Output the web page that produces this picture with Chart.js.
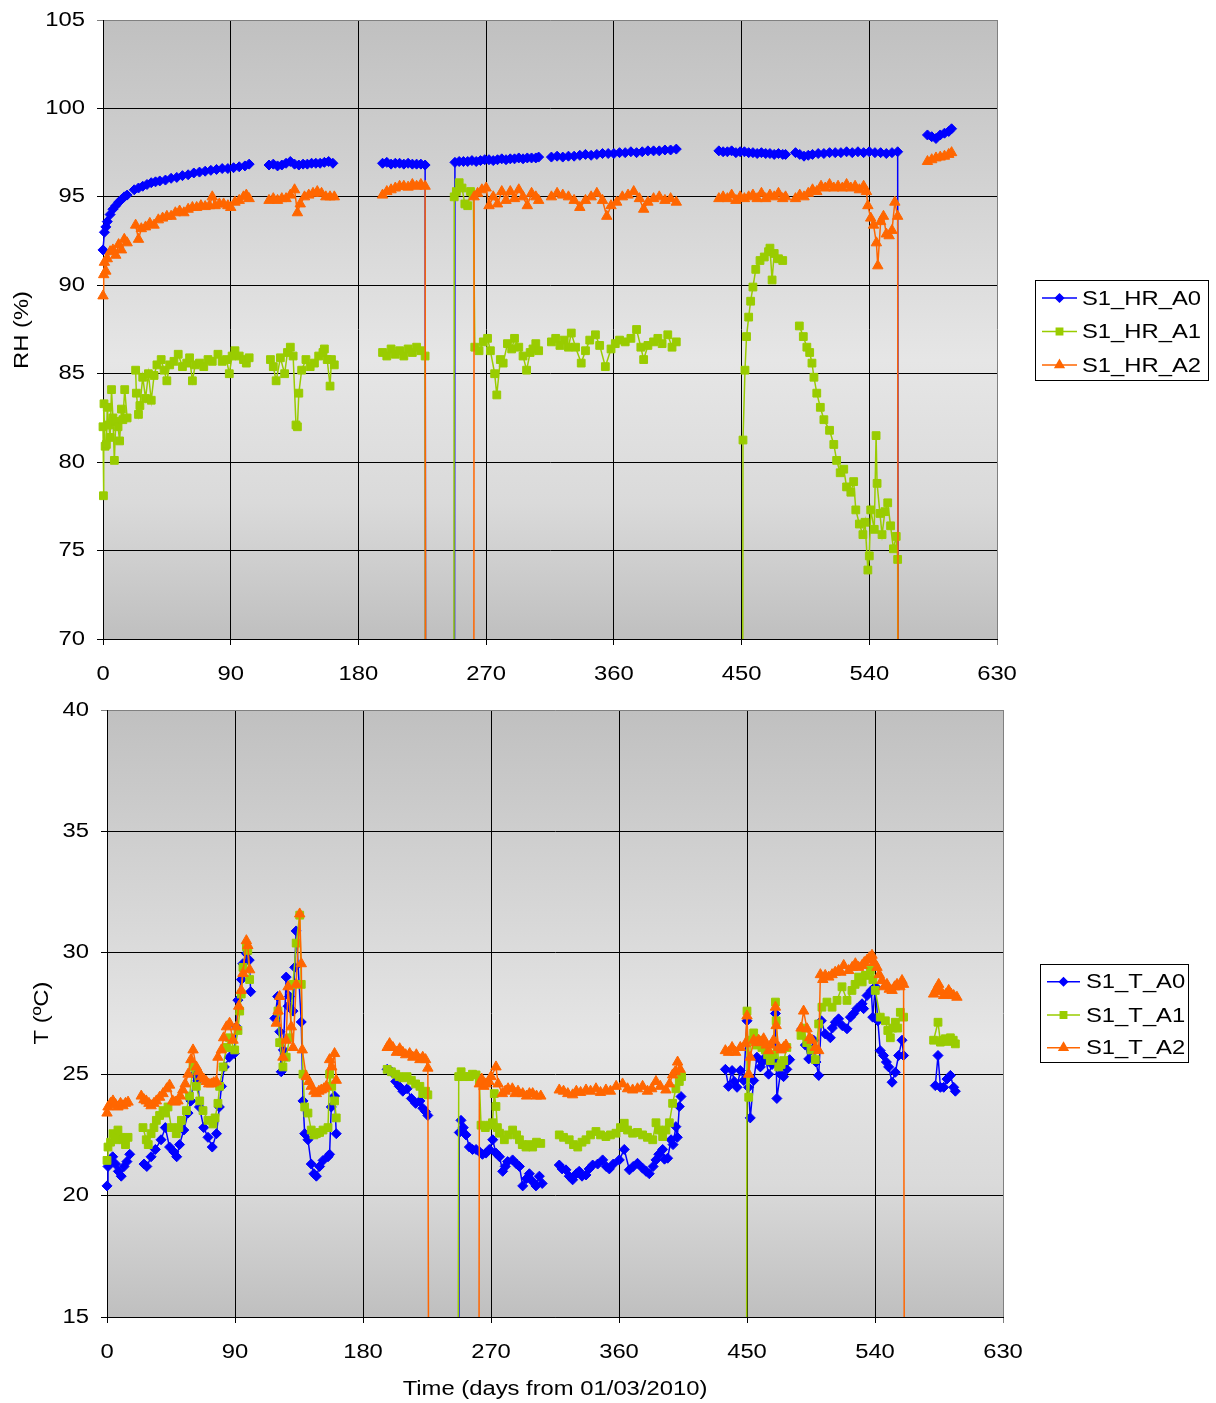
<!DOCTYPE html>
<html>
<head>
<meta charset="utf-8">
<title>RH and T, sensor S1</title>
<script src="https://cdn.jsdelivr.net/npm/chart.js@4.4.0/dist/chart.umd.min.js"></script>
<style>
  body { margin: 0; background: #fff; }
  #wrap { position: relative; width: 1216px; height: 1403px; }
  canvas { position: absolute; left: 0; }
</style>
</head>
<body>
<div id="wrap">
  <canvas id="rhChart" width="1216" height="700" style="top:0"></canvas>
  <canvas id="tChart" width="1216" height="703" style="top:700px"></canvas>
</div>
<script>
// x axis ticks (days from 01/03/2010)
const dayTicks = [0, 90, 180, 270, 360, 450, 540, 630];
const rhTicks = [70, 75, 80, 85, 90, 95, 100, 105];
const tTicks = [15, 20, 25, 30, 35, 40];

// [day, value] pairs; null = gap, 0 = reading below the axis
const hrA0 = [
  [0,92.0],[1,93.0],[2,93.3],[3,93.6],[5,94.0],[7,94.3],[9,94.5],[11,94.7],[13,94.85],[15,95.0],[17,95.1],[19,null],
  [22,95.4],[25,95.5],[28,95.6],[31,95.7],[34,95.8],[37,95.85],[40,95.9],[44,95.95],[48,96.05],[52,96.1],[56,96.2],[60,96.25],[64,96.35],[68,96.4],[72,96.45],[76,96.5],[80,96.55],[84,96.6],[88,96.6],[92,96.65],[96,96.7],[100,96.75],[103,96.85],[110,null],
  [117,96.8],[120,96.85],[123,96.75],[126,96.8],[129,96.9],[132,97.0],[135,96.85],[138,96.8],[141,96.85],[144,96.85],[147,96.9],[150,96.9],[153,96.9],[156,96.95],[159,97.0],[162,96.9],[180,null],
  [197,96.9],[200,96.95],[203,96.85],[206,96.9],[209,96.9],[212,96.85],[215,96.9],[218,96.85],[221,96.85],[224,96.85],[227,96.8],[228,0],[238,null],
  [247,0],[248,96.95],[251,97.0],[254,97.0],[257,97.0],[260,97.05],[263,97.0],[266,97.05],[269,97.1],[272,97.1],[275,97.05],[278,97.1],[281,97.15],[284,97.1],[287,97.15],[290,97.15],[293,97.2],[296,97.15],[299,97.2],[302,97.2],[305,97.2],[307,97.25],[312,null],
  [316,97.25],[320,97.3],[324,97.25],[328,97.3],[332,97.3],[336,97.35],[340,97.4],[344,97.35],[348,97.4],[352,97.45],[356,97.45],[360,97.45],[364,97.5],[368,97.5],[372,97.55],[376,97.5],[380,97.55],[384,97.6],[388,97.6],[392,97.6],[396,97.65],[400,97.65],[404,97.7],[420,null],
  [434,97.6],[437,97.55],[440,97.55],[443,97.6],[446,97.5],[449,97.55],[452,97.55],[455,97.5],[458,97.5],[461,97.45],[464,97.5],[467,97.45],[470,97.45],[473,97.4],[476,97.45],[479,97.4],[481,97.4],[485,null],
  [488,97.5],[491,97.4],[494,97.3],[497,97.35],[500,97.4],[504,97.45],[508,97.45],[512,97.5],[516,97.5],[520,97.5],[524,97.55],[528,97.5],[532,97.55],[536,97.5],[540,97.55],[544,97.5],[548,97.5],[552,97.45],[556,97.5],[560,97.55],[561,0],[570,null],
  [581,98.5],[584,98.4],[587,98.3],[590,98.5],[593,98.6],[596,98.7],[598,98.85]
];

const hrA1 = [
  [0,82.0],[0.3,78.1],[0.7,83.3],[1.5,80.9],[2.4,81.0],[3,83.1],[4,82.1],[5,81.4],[6,84.1],[7,82.5],[8,80.1],[9,82.3],[10.6,82.0],[11.7,81.2],[13,83.0],[14,82.4],[15.3,84.1],[17,82.5],[20,null],
  [23,85.2],[23.5,83.9],[25,82.7],[26,83.2],[28,84.8],[30,83.6],[32,85.0],[34,83.5],[36,84.9],[38,85.5],[41,85.8],[43,85.2],[45,84.6],[47,85.5],[50,85.7],[53,86.1],[56,85.4],[59,85.6],[61,85.9],[63,84.6],[65,85.5],[68,85.6],[71,85.4],[74,85.8],[77,85.7],[81,86.1],[84,85.7],[87,85.8],[89,85.0],[91,86.0],[93,86.3],[96,86.0],[99,85.8],[101,85.6],[103,85.9],[110,null],
  [118,85.8],[120,85.4],[122,84.6],[125,85.9],[128,85.0],[130,86.2],[132,86.5],[134,86.0],[136,82.1],[137,82.0],[138,83.9],[140,85.2],[143,85.8],[146,85.4],[149,85.6],[152,86.0],[155,86.2],[156,86.4],[158,85.8],[160,84.3],[161,85.8],[163,85.5],[180,null],
  [197,86.2],[200,86.0],[203,86.4],[206,86.1],[209,86.3],[212,86.0],[215,86.4],[218,86.2],[221,86.5],[224,86.3],[227,86.0],[228,0],[238,null],
  [247,0],[247.5,95.0],[249,95.3],[251,95.8],[253,95.5],[255,94.6],[257,94.5],[259,95.3],[261,95.1],[262,86.5],[265,86.3],[268,86.8],[271,87.0],[273,86.3],[276,85.0],[277.5,83.8],[280,85.8],[282,85.6],[285,86.7],[288,86.4],[290,87.0],[293,86.5],[296,86.0],[298.5,85.2],[301,86.2],[303,86.4],[305,86.7],[307,86.3],[312,null],
  [316,86.8],[319,87.0],[322,86.6],[325,86.9],[328,86.5],[330,87.3],[333,86.5],[337,85.6],[340,86.3],[343,86.9],[347,87.2],[350,86.6],[354,85.4],[358,86.4],[361,86.7],[364,86.9],[368,86.8],[372,87.0],[376,87.5],[379,86.5],[381,85.8],[384,86.6],[388,86.8],[391,87.0],[394,86.7],[398,87.2],[401,86.5],[404,86.8],[420,null],
  [450,0],[451,81.25],[452.4,85.2],[453.5,87.1],[455,88.2],[456.4,89.1],[458,89.9],[460,90.9],[463,91.4],[466,91.6],[469,91.9],[470,92.1],[471.5,90.3],[473,91.8],[476,91.5],[479,91.4],[485,null],
  [490.7,87.7],[493.5,87.1],[496,86.5],[498,86.2],[499.6,85.6],[501,84.8],[503,83.9],[505.5,83.1],[508,82.4],[512,81.8],[515,81.0],[517,80.1],[519.5,79.4],[522,79.6],[524,78.6],[527,78.3],[529,78.9],[530.5,77.3],[533,76.5],[535.5,75.9],[537,76.6],[539,73.9],[540,74.7],[541,77.3],[543.5,76.2],[544.8,81.5],[545.5,78.8],[547.5,77.1],[549,75.9],[551,77.2],[553,77.7],[555,76.4],[557,75.1],[559,75.8],[560,74.5],[561,0]
];

const hrA2 = [
  [0,89.4],[0.5,90.6],[1,91.3],[2,90.8],[3,91.5],[5,91.9],[7,92.0],[9,91.7],[11,92.3],[13,92.0],[15,92.6],[17,92.4],[20,null],
  [23,93.4],[25,92.6],[27,93.2],[30,93.3],[33,93.5],[36,93.4],[39,93.7],[42,93.8],[45,93.9],[48,93.9],[51,94.1],[54,94.2],[57,94.1],[60,94.3],[63,94.4],[66,94.4],[69,94.5],[72,94.45],[75,94.5],[77,95.0],[79,94.5],[82,94.6],[85,94.6],[88,94.5],[90,94.4],[93,94.7],[96,94.8],[99,95.0],[101,95.1],[103,94.9],[110,null],
  [117,94.8],[120,94.9],[123,94.8],[126,94.9],[129,94.9],[132,95.1],[135,95.4],[137,94.1],[139,94.6],[142,95.0],[145,95.1],[148,95.2],[151,95.3],[154,95.2],[157,95.0],[160,95.0],[163,95.0],[180,null],
  [197,95.1],[200,95.3],[203,95.4],[206,95.5],[209,95.6],[212,95.6],[215,95.55],[218,95.7],[221,95.6],[224,95.7],[227,95.6],[228,0],[238,null],
  [261,0],[261.5,95.0],[264,95.2],[267,95.4],[270,95.5],[272,94.5],[275,95.0],[278,94.6],[281,95.3],[284,94.8],[287,95.3],[290,94.9],[293,95.4],[296,95.0],[299,94.5],[302,95.2],[305,95.0],[307,94.8],[312,null],
  [316,95.0],[320,95.2],[324,95.1],[328,95.0],[332,94.8],[336,94.4],[340,94.8],[344,95.0],[348,95.2],[352,94.8],[355,93.9],[358,94.5],[362,94.7],[366,95.0],[370,95.1],[374,95.3],[378,94.9],[381,94.3],[384,94.7],[388,94.9],[392,95.0],[396,94.8],[400,94.9],[404,94.7],[420,null],
  [434,94.9],[437,95.0],[440,94.9],[443,95.1],[446,94.8],[449,95.0],[452,94.9],[455,95.0],[458,95.1],[461,94.9],[464,95.2],[467,94.9],[470,95.1],[473,95.0],[476,95.2],[479,94.9],[481,95.0],[485,null],
  [488,94.9],[491,95.1],[494,95.0],[497,95.2],[500,95.4],[503,95.3],[506,95.6],[509,95.5],[512,95.7],[515,95.5],[518,95.6],[521,95.5],[524,95.7],[527,95.5],[530,95.6],[533,95.4],[536,95.6],[538,95.3],[539,94.5],[541,93.8],[543,93.4],[545,92.4],[546,91.1],[548,93.6],[550,93.9],[552,92.9],[554,92.8],[556,93.1],[558,94.7],[560,93.9],[561,0],[570,null],
  [581,97.0],[584,97.1],[587,97.2],[590,97.25],[593,97.3],[596,97.4],[598,97.5]
];

const tA0 = [
  [0,20.4],[0.7,21.2],[2,21.4],[4,21.6],[6,21.3],[8,21.0],[10,20.8],[12,21.2],[14,21.4],[16,21.7],[20,null],
  [26,21.3],[28,21.2],[31,21.6],[34,21.9],[38,22.3],[41,22.8],[44,22.0],[47,21.8],[49,21.6],[51,22.1],[54,22.7],[57,23.4],[59,23.9],[61.5,25.0],[64,24.75],[65,23.65],[68,22.8],[71,22.4],[74,22.0],[77,22.55],[79,23.65],[80.5,24.5],[82.5,25.3],[86,25.7],[89.5,25.85],[91,26.95],[92,28.05],[94.5,28.9],[95.5,29.55],[98,29.97],[100,29.7],[101,28.4],[110,null],
  [118,27.3],[120,28.2],[121.5,26.75],[122.5,25.1],[124,26.0],[126,29.0],[127.3,27.8],[128.4,28.2],[130.8,27.6],[132,29.4],[133,30.9],[136.6,27.15],[137.8,23.9],[139,22.55],[141.3,22.3],[143.6,21.3],[145.5,20.9],[147.2,20.8],[149.5,21.2],[151.9,21.45],[155.4,21.6],[156.5,21.7],[157.7,23.65],[160,24.1],[161.2,22.55],[180,null],
  [197,25.2],[200,25.1],[203,24.7],[205.5,24.5],[208,24.3],[211,24.4],[214,24.0],[217,23.8],[220,23.9],[222,23.6],[224,23.46],[225.6,23.3],[236,null],
  [247,0],[247.7,22.6],[248.9,23.1],[250.5,22.8],[252.4,22.5],[254.8,22.0],[257,21.9],[259.5,21.9],[262,21.8],[264,21.7],[266.5,21.75],[268.8,21.9],[271.2,22.3],[273.5,21.75],[276,21.6],[278.2,21.0],[280,21.2],[281.7,21.4],[285.2,21.47],[288,21.3],[290,21.2],[292.3,20.4],[295,20.7],[297,20.9],[299,20.6],[301.6,20.4],[304,20.8],[306,20.5],[312,null],
  [318,21.26],[320,21.1],[322.7,21.06],[325,20.8],[327.4,20.65],[330,20.9],[332,21.0],[334,20.8],[336.8,20.85],[339,21.1],[341.5,21.26],[345,21.3],[348.5,21.47],[351,21.2],[353.2,21.1],[356,21.3],[360.2,21.47],[363.7,21.9],[367.3,21.06],[370,21.2],[373,21.33],[376.6,21.13],[379,21.0],[381.3,20.9],[384,21.2],[386,21.47],[388,21.7],[390.7,21.9],[392,21.5],[394.2,21.54],[396.6,22.3],[398,22.1],[400,22.84],[401,22.4],[402.4,23.67],[403.6,24.08],[420,null],
  [434.8,25.2],[437,24.5],[439.5,25.15],[441,24.7],[443,24.46],[445.3,25.15],[447.7,24.74],[450,27.2],[451,24.46],[452.3,23.2],[454.7,24.74],[457,25.7],[459.4,25.3],[461,25.5],[462.9,25.7],[465.2,25.0],[467.6,25.4],[469,25.6],[470,27.5],[471,24.0],[473.4,25.0],[475.7,24.9],[478,25.2],[480,25.6],[484,null],
  [488.7,26.87],[491,26.2],[493.4,25.63],[495,26.0],[496.9,26.4],[498.5,25.5],[500.4,24.95],[502.3,27.2],[505,26.66],[508.6,26.5],[510,26.9],[512.1,27.14],[514.4,27.28],[517,27.0],[520.3,26.87],[522.7,27.35],[525,27.5],[527.3,27.7],[530.9,27.9],[532,27.7],[534.4,28.24],[537.4,28.45],[538.4,27.35],[540.2,28.6],[542,27.2],[543.7,25.97],[546,25.77],[548,25.5],[549.6,25.3],[552,24.67],[554.3,25.08],[556.6,25.77],[559,26.4],[560.1,25.77],[570,null],
  [582.4,24.53],[584.3,25.77],[586,24.46],[588.3,24.46],[590.6,24.8],[593,24.95],[595.3,24.46],[596.5,24.3]
];

const tA1 = [
  [0,21.45],[0.7,22.0],[2.5,22.2],[4.2,22.55],[6,22.3],[7.7,22.7],[9.5,22.4],[11.2,22.3],[13,22.1],[14.8,22.4],[20,null],
  [25.3,22.8],[27.6,22.3],[29,22.1],[31,22.55],[33,22.8],[34.7,23.1],[37,23.3],[39.4,23.5],[41,23.4],[42.9,23.65],[45.2,22.8],[48.7,22.55],[50.5,22.8],[52.3,23.1],[55.8,23.5],[58,24.1],[60.5,25.3],[62.8,24.5],[65.2,23.9],[67.5,23.5],[71,23.1],[74.5,22.95],[76,23.2],[78,23.8],[79.2,24.5],[81.6,25.3],[84,26.1],[86.2,26.5],[89.8,26.0],[92.1,26.8],[93.3,27.6],[94.4,28.3],[95.6,29.4],[98,30.25],[99,30.1],[100.3,28.9],[110,null],
  [120.2,27.6],[121.4,26.3],[123.7,25.3],[126,25.7],[128.4,26.5],[130.8,28.7],[133,30.4],[135.5,31.55],[136.6,28.7],[137.8,25.0],[139,23.65],[141.3,23.4],[143.6,22.7],[145.5,22.5],[147.2,22.55],[149.5,22.6],[151.9,22.7],[155.4,22.8],[156.5,25.0],[158,24.5],[160,23.9],[161.2,23.2],[180,null],
  [197,25.2],[200,25.1],[203,25.0],[205.5,24.9],[208,24.85],[211,24.9],[214,24.75],[217,24.6],[220,24.5],[222,24.2],[224,24.3],[225.6,24.15],[236,null],
  [246.6,0],[247.3,24.9],[249,25.1],[251,24.9],[254.8,24.9],[257,25.0],[259.5,24.97],[261.8,24.7],[263,22.9],[266,22.8],[268.8,22.9],[271,23.0],[272.3,24.2],[273.5,23.67],[274.5,22.8],[276,22.57],[279.4,22.3],[282,22.5],[285.2,22.7],[288,22.5],[290,22.3],[292,22.1],[294.6,22.0],[297,22.1],[299.3,22.0],[302,22.2],[305,22.15],[312,null],
  [318,22.5],[321,22.4],[325,22.3],[328,22.1],[331,22.0],[334,22.2],[336.8,22.3],[340,22.5],[343.8,22.64],[347,22.5],[350.8,22.43],[354,22.5],[357.9,22.57],[361,22.8],[363.7,22.98],[366,22.7],[369.6,22.57],[373,22.6],[376.6,22.5],[380,22.4],[383.7,22.3],[386,23.0],[388,22.7],[390.7,22.43],[393,22.7],[395.4,23.0],[397.7,23.8],[400,24.4],[402.4,24.7],[404,24.9],[420,null],
  [449.5,0],[450,27.6],[451.2,24.05],[452.3,26.4],[454.7,26.7],[456.5,26.2],[458.2,26.4],[460.5,26.1],[462.9,26.0],[464.5,25.8],[466.4,25.56],[468.5,25.8],[470,27.97],[470.5,27.2],[472.3,25.3],[474,25.4],[475.8,25.56],[478,26.1],[484,null],
  [488,26.6],[490,26.9],[492,26.3],[495,26.0],[498,25.6],[500.4,27.07],[502.7,27.76],[506.2,27.97],[509.8,27.76],[513.3,28.04],[516.8,28.6],[520.3,28.04],[523.8,28.45],[526,28.7],[528.5,29.0],[531,28.8],[533.2,29.07],[536.7,29.27],[538.5,28.9],[540.2,28.45],[543.7,27.35],[547.3,27.2],[549,26.8],[550.8,26.5],[552.5,26.9],[554.3,27.14],[556,26.9],[557.8,27.55],[560.1,27.35],[570,null],
  [581.2,26.4],[584.3,27.14],[586,26.32],[587.5,26.4],[589.4,26.46],[591,26.35],[593,26.5],[595,26.4],[596.5,26.25]
];

const tA2 = [
  [0,23.4],[0.7,23.65],[2.5,23.8],[4.2,23.9],[6,23.75],[7.7,23.65],[9.5,23.8],[11.2,23.7],[13,23.8],[14.8,23.85],[20,null],
  [24.1,24.1],[26,23.95],[27.6,23.9],[29.5,23.8],[31,23.7],[33,23.8],[34.7,23.9],[37,24.05],[39.4,24.2],[42,24.4],[44,24.55],[46.2,23.9],[48,23.85],[49.9,23.9],[51.5,24.1],[53.3,24.35],[55,24.6],[57,25.0],[59,25.6],[60.5,26.0],[62.8,25.3],[64.5,25.1],[66.3,24.9],[68,24.8],[69.8,24.7],[71.5,24.6],[73.4,24.6],[75,24.65],[76.9,24.7],[78,25.7],[80.4,26.0],[82,26.5],[84,26.95],[86.2,27.1],[88.6,26.4],[91,26.95],[92.6,27.8],[94.4,28.45],[95.6,29.15],[98,30.5],[99,30.3],[100.3,29.3],[110,null],
  [119,27.1],[120.3,27.6],[121.4,28.2],[123.7,25.7],[126,26.4],[127.3,28.6],[129.6,26.95],[130.8,26.1],[133,28.7],[135.5,31.6],[136.6,29.55],[137.3,26.0],[140.1,24.9],[142,24.7],[143.6,24.5],[145.5,24.3],[147.2,24.2],[149,24.3],[150.7,24.35],[152.5,24.4],[154.2,24.5],[156.5,25.6],[158,25.3],[160,25.85],[161.2,24.75],[180,null],
  [197,26.1],[198.7,26.26],[201,26.1],[203.5,25.9],[205.8,26.05],[208,25.9],[210,25.8],[212.8,25.85],[215,25.7],[217.5,25.8],[220,25.6],[222,25.7],[224,25.6],[225.6,25.25],[226.6,0],[236,null],
  [261.3,0],[261.8,24.6],[263.5,24.8],[265,24.5],[266.5,24.6],[268.5,24.7],[270,24.9],[273.5,25.3],[275,24.6],[278,24.2],[280,24.3],[282,24.4],[285,24.4],[287,24.2],[289,24.3],[292.3,24.2],[295,24.1],[297,24.2],[299.3,24.2],[302,24.1],[305,24.1],[312,null],
  [318,24.35],[321,24.3],[324,24.2],[327.4,24.15],[330,24.3],[333,24.25],[336.8,24.35],[340,24.3],[343.8,24.4],[347,24.25],[350.8,24.35],[354,24.3],[358,24.5],[362.5,24.6],[366,24.4],[369.6,24.35],[373,24.4],[376.6,24.5],[380,24.3],[383,24.4],[386,24.7],[389,24.5],[393,24.35],[395.5,24.6],[397.7,24.97],[399.5,25.1],[401.2,25.5],[403,25.2],[420,null],
  [434.8,25.97],[437,25.9],[439.5,26.1],[442,25.9],[445.3,26.1],[448.8,26.25],[450,27.4],[451.2,25.0],[452.3,25.7],[454.7,26.4],[456.5,26.3],[458.2,26.4],[460,26.3],[461.7,26.46],[463.5,26.2],[465.2,25.97],[466.8,26.2],[468.7,26.4],[470,27.76],[470.5,27.0],[472.3,26.1],[474,26.0],[475.8,26.1],[477.4,26.2],[484,null],
  [488,26.9],[489.8,27.6],[492.2,26.87],[494,26.5],[495.7,26.4],[498,26.1],[500.4,25.97],[501.6,29.1],[503.3,28.9],[505,29.07],[507.5,29.0],[509.8,29.1],[512,29.2],[514.4,29.27],[516,29.2],[518,29.48],[521.5,29.27],[524,29.4],[526.2,29.55],[528.5,29.4],[530.9,29.48],[532.5,29.6],[534.4,29.7],[536,29.8],[537.9,29.9],[539.5,29.6],[541.4,29.4],[543,29.1],[544.9,28.86],[546.5,28.6],[548.4,28.7],[550,28.5],[552,28.45],[553.8,28.6],[555.5,28.7],[557.5,28.6],[559,28.86],[560.1,28.7],[561,0],[570,null],
  [581.2,28.3],[583,28.5],[584.8,28.7],[586.5,28.4],[588.3,28.24],[590,28.3],[591.8,28.45],[593.5,28.3],[595.3,28.24],[597.6,28.17]
];

const BLUE = '#0000ff';
const GREEN = '#99cc00';
const ORANGE = '#ff6600';
const FONT = "'Liberation Sans', Arial, sans-serif";
// the original's text is drawn a bit wide, so every label gets a horizontal stretch
const TEXT_STRETCH = 1.19;

function toPoints(pairs) {
  return pairs.map(p => ({ x: p[0], y: p[1] }));
}

function series(label, pairs, color, style, radius, order) {
  return {
    label: label,
    data: toPoints(pairs),
    borderColor: color,
    backgroundColor: color,
    borderWidth: 1.5,
    pointStyle: style,
    pointRadius: radius,
    pointHoverRadius: radius,
    pointBorderWidth: 1,
    pointBackgroundColor: color,
    pointBorderColor: color,
    tension: 0,
    spanGaps: false,
    order: order,
    clip: { left: 10, top: 10, right: 10, bottom: 0 }
  };
}

function wideText(ctx, text, x, y, align, angle) {
  ctx.save();
  ctx.translate(x, y);
  if (angle) ctx.rotate(angle);
  ctx.scale(TEXT_STRETCH, 1);
  ctx.textAlign = align;
  ctx.fillText(text, 0, 0);
  ctx.restore();
}

// gray gradient behind the plot area
const plotBackground = {
  id: 'plotBackground',
  beforeDraw(chart) {
    const { ctx, chartArea: a } = chart;
    const g = ctx.createLinearGradient(0, a.top, 0, a.bottom);
    g.addColorStop(0, '#c0c0c0');
    g.addColorStop(0.55, '#e6e6e6');
    g.addColorStop(0.78, '#dadada');
    g.addColorStop(1, '#bfbfbf');
    ctx.save();
    ctx.fillStyle = g;
    ctx.fillRect(a.left, a.top, a.right - a.left, a.bottom - a.top);
    ctx.restore();
  }
};

// tick labels, axis titles and the boxed legend on the right
const sideText = {
  id: 'sideText',
  afterDraw(chart, args, opts) {
    const ctx = chart.ctx;
    const a = chart.chartArea;
    ctx.save();
    ctx.fillStyle = '#000';
    ctx.font = '20px ' + FONT;
    ctx.textBaseline = 'middle';

    chart.scales.x.ticks.forEach(t => {
      wideText(ctx, String(t.value), chart.scales.x.getPixelForValue(t.value), a.bottom + 35, 'center');
    });
    chart.scales.y.ticks.forEach(t => {
      wideText(ctx, String(t.value), a.left - 18, chart.scales.y.getPixelForValue(t.value), 'right');
    });

    wideText(ctx, opts.yTitle, opts.yTitleX, opts.yTitleY, 'center', -Math.PI / 2);
    if (opts.xTitle) wideText(ctx, opts.xTitle, opts.xTitleX, opts.xTitleY, 'center');

    const b = opts.box;
    ctx.strokeStyle = '#000';
    ctx.lineWidth = 1;
    ctx.strokeRect(b.x + 0.5, b.y + 0.5, b.w, b.h);
    chart.data.datasets.forEach((ds, i) => {
      const y = b.y + opts.rows[i];
      ctx.strokeStyle = ds.borderColor;
      ctx.lineWidth = 1.5;
      ctx.beginPath();
      ctx.moveTo(b.x + opts.lineFrom, y);
      ctx.lineTo(b.x + opts.lineTo, y);
      ctx.stroke();
      ctx.fillStyle = ds.borderColor;
      Chart.helpers.drawPoint(ctx, {
        pointStyle: ds.pointStyle, radius: opts.markerRadius[i], rotation: 0, borderWidth: 1
      }, b.x + (opts.lineFrom + opts.lineTo) / 2, y);
      ctx.fillStyle = '#000';
      wideText(ctx, ds.label, b.x + opts.textX, y + 1, 'left');
    });
    ctx.restore();
  }
};

function makeScales(yMin, yMax, yTicks, yWidth, xHeight) {
  return {
    x: {
      type: 'linear', min: 0, max: 630,
      afterBuildTicks(s) { s.ticks = dayTicks.map(v => ({ value: v })); },
      ticks: { display: false },
      grid: {
        color: c => (c.tick && c.tick.value === 630 ? '#808080' : '#000'),
        lineWidth: 1, tickLength: 6
      },
      border: { color: '#000', width: 1 },
      afterFit(s) { s.height = xHeight; s.paddingLeft = 0; s.paddingRight = 0; }
    },
    y: {
      type: 'linear', min: yMin, max: yMax,
      afterBuildTicks(s) { s.ticks = yTicks.map(v => ({ value: v })); },
      ticks: { display: false },
      grid: {
        color: c => (c.tick && c.tick.value === yMax ? '#808080' : '#000'),
        lineWidth: 1, tickLength: 6
      },
      border: { color: '#000', width: 1 },
      afterFit(s) { s.width = yWidth; s.paddingTop = 0; s.paddingBottom = 0; }
    }
  };
}

const baseOptions = {
  responsive: false,
  animation: false,
  events: [],
  plugins: { legend: { display: false }, tooltip: { enabled: false } }
};

new Chart(document.getElementById('rhChart'), {
  type: 'line',
  data: {
    datasets: [
      series('S1_HR_A0', hrA0, BLUE, 'rectRot', 5, 3),
      series('S1_HR_A1', hrA1, GREEN, 'rect', 5.5, 2),
      series('S1_HR_A2', hrA2, ORANGE, 'triangle', 6, 1)
    ]
  },
  options: Object.assign({}, baseOptions, {
    layout: { padding: { left: 43, right: 219, top: 20, bottom: 11 } },
    scales: makeScales(70, 105, rhTicks, 60, 50),
    plugins: Object.assign({}, baseOptions.plugins, {
      sideText: {
        yTitle: 'RH (%)', yTitleX: 22, yTitleY: 330,
        box: { x: 1035, y: 280, w: 173, h: 100 },
        rows: [18, 51.5, 85], lineFrom: 7, lineTo: 42, textX: 47,
        markerRadius: [4, 4.5, 5]
      }
    })
  }),
  plugins: [plotBackground, sideText]
});

new Chart(document.getElementById('tChart'), {
  type: 'line',
  data: {
    datasets: [
      series('S1_T_A0', tA0, BLUE, 'rectRot', 5, 3),
      series('S1_T_A1', tA1, GREEN, 'rect', 5.5, 2),
      series('S1_T_A2', tA2, ORANGE, 'triangle', 6, 1)
    ]
  },
  options: Object.assign({}, baseOptions, {
    layout: { padding: { left: 47, right: 213, top: 10, bottom: 36 } },
    scales: makeScales(15, 40, tTicks, 60, 50),
    plugins: Object.assign({}, baseOptions.plugins, {
      sideText: {
        yTitle: 'T (ºC)', yTitleX: 42, yTitleY: 313,
        xTitle: 'Time (days from 01/03/2010)', xTitleX: 555, xTitleY: 689,
        box: { x: 1040, y: 264, w: 148, h: 98 },
        rows: [17.7, 51, 83.7], lineFrom: 7, lineTo: 40, textX: 46,
        markerRadius: [4, 4.5, 5]
      }
    })
  }),
  plugins: [plotBackground, sideText]
});
</script>
</body>
</html>
